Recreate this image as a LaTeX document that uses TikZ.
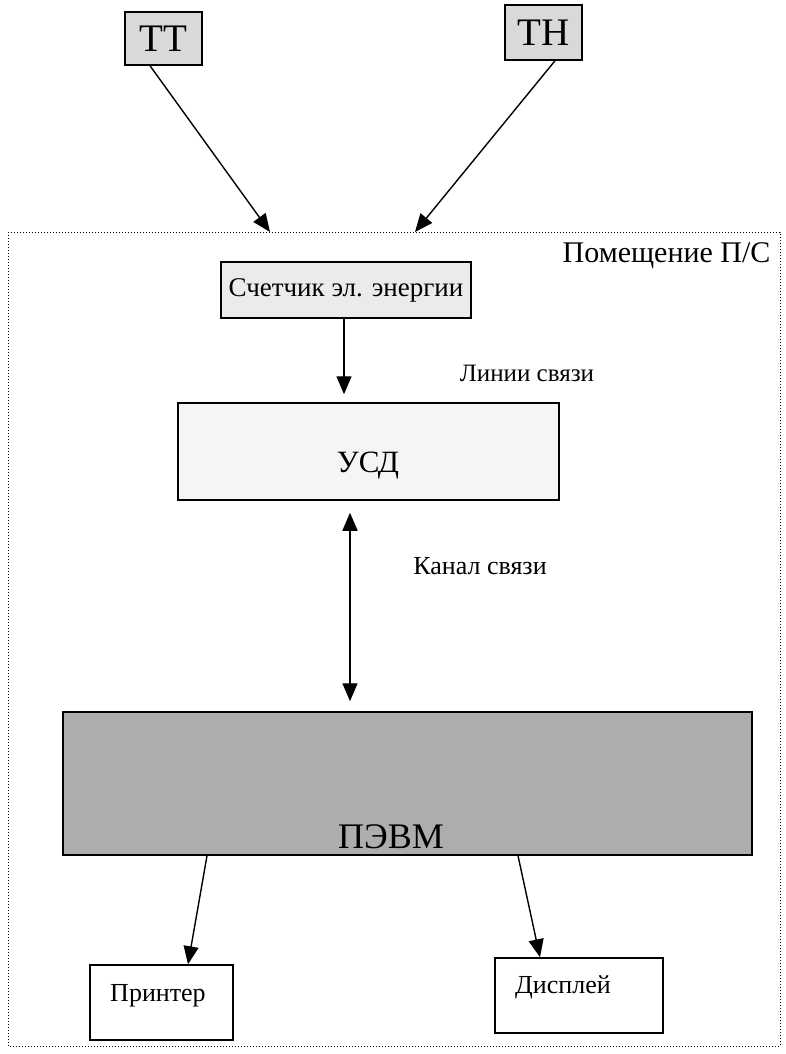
\documentclass[tikz,border=0pt]{standalone}
\usepackage{fontspec}
\setmainfont{Liberation Serif}
\usetikzlibrary{arrows.meta}

\newcommand{\fsz}[1]{\fontsize{#1}{#1}\selectfont}

\tikzset{
  unit/.style={draw, line width=1.5pt, inner sep=0pt},
  conn/.style={line width=1.4pt, -{Triangle[length=18pt,width=15pt]}},
  dconn/.style={line width=1.4pt, {Triangle[length=18pt,width=15pt]}-{Triangle[length=18pt,width=15pt]}},
}

\begin{document}
\begin{tikzpicture}[x=1pt,y=-1pt]
\useasboundingbox (0,0) rectangle (786,1054);

% room of the substation
\draw[dotted, line width=1pt] (8,232) rectangle (780,1046);
\node[anchor=base east, font=\fsz{30}] (room) at (774,262) {Помещение П/С};

\coordinate (tt in) at (270,232);
\coordinate (tn in) at (415,232);

% instrument transformers
\node[unit, fill=black!15, minimum width=77pt, minimum height=53pt, font=\fsz{39}] (tt) at (163.5,38.5) {ТТ};
\node[unit, fill=black!15, minimum width=77pt, minimum height=55pt, font=\fsz{39}] (tn) at (543.5,32.5) {ТН};

% units
\node[unit, fill=black!8, minimum width=250pt, minimum height=56pt, font=\fsz{27}] (meter) at (346,290) {Счетчик эл. энергии};
\node[unit, fill=black!4, minimum width=381pt, minimum height=97pt] (usd) at (368.5,451.5) {};
\node[anchor=base, font=\fsz{31}] (usd text) at (368,472) {УСД};
\node[unit, fill=black!32, minimum width=689pt, minimum height=143pt] (pevm) at (407.5,783.5) {};
\node[anchor=base, font=\fsz{36}] (pevm text) at (391,848) {ПЭВМ};
\node[unit, minimum width=143pt, minimum height=75pt] (printer) at (161.5,1002.5) {};
\node[anchor=base, font=\fsz{26}] (printer text) at (158,1001) {Принтер};
\node[unit, minimum width=168pt, minimum height=75pt] (display) at (579,995.5) {};
\node[anchor=base, font=\fsz{26}] (display text) at (563,993) {Дисплей};

% links
\node[anchor=base, font=\fsz{25}] (line lbl) at (527,381) {Линии связи};
\node[anchor=base, font=\fsz{26}] (chan lbl) at (480,574) {Канал связи};

\draw[conn] ([xshift=-13.5pt]tt.south) -- (tt in);
\draw[conn] ([xshift=11.5pt]tn.south) -- (tn in);
\draw[conn, shorten >=8pt] ([xshift=-2pt]meter.south) -- ([xshift=-24.5pt]usd.north);
\draw[dconn, shorten <=12pt, shorten >=10pt] ([xshift=-18.5pt]usd.south) -- ([xshift=-57.5pt]pevm.north);
\draw[conn] ([xshift=-200.5pt]pevm.south) -- ([xshift=26.5pt]printer.north);
\draw[conn] ([xshift=110.5pt]pevm.south) -- ([xshift=-39pt]display.north);

\end{tikzpicture}
\end{document}
